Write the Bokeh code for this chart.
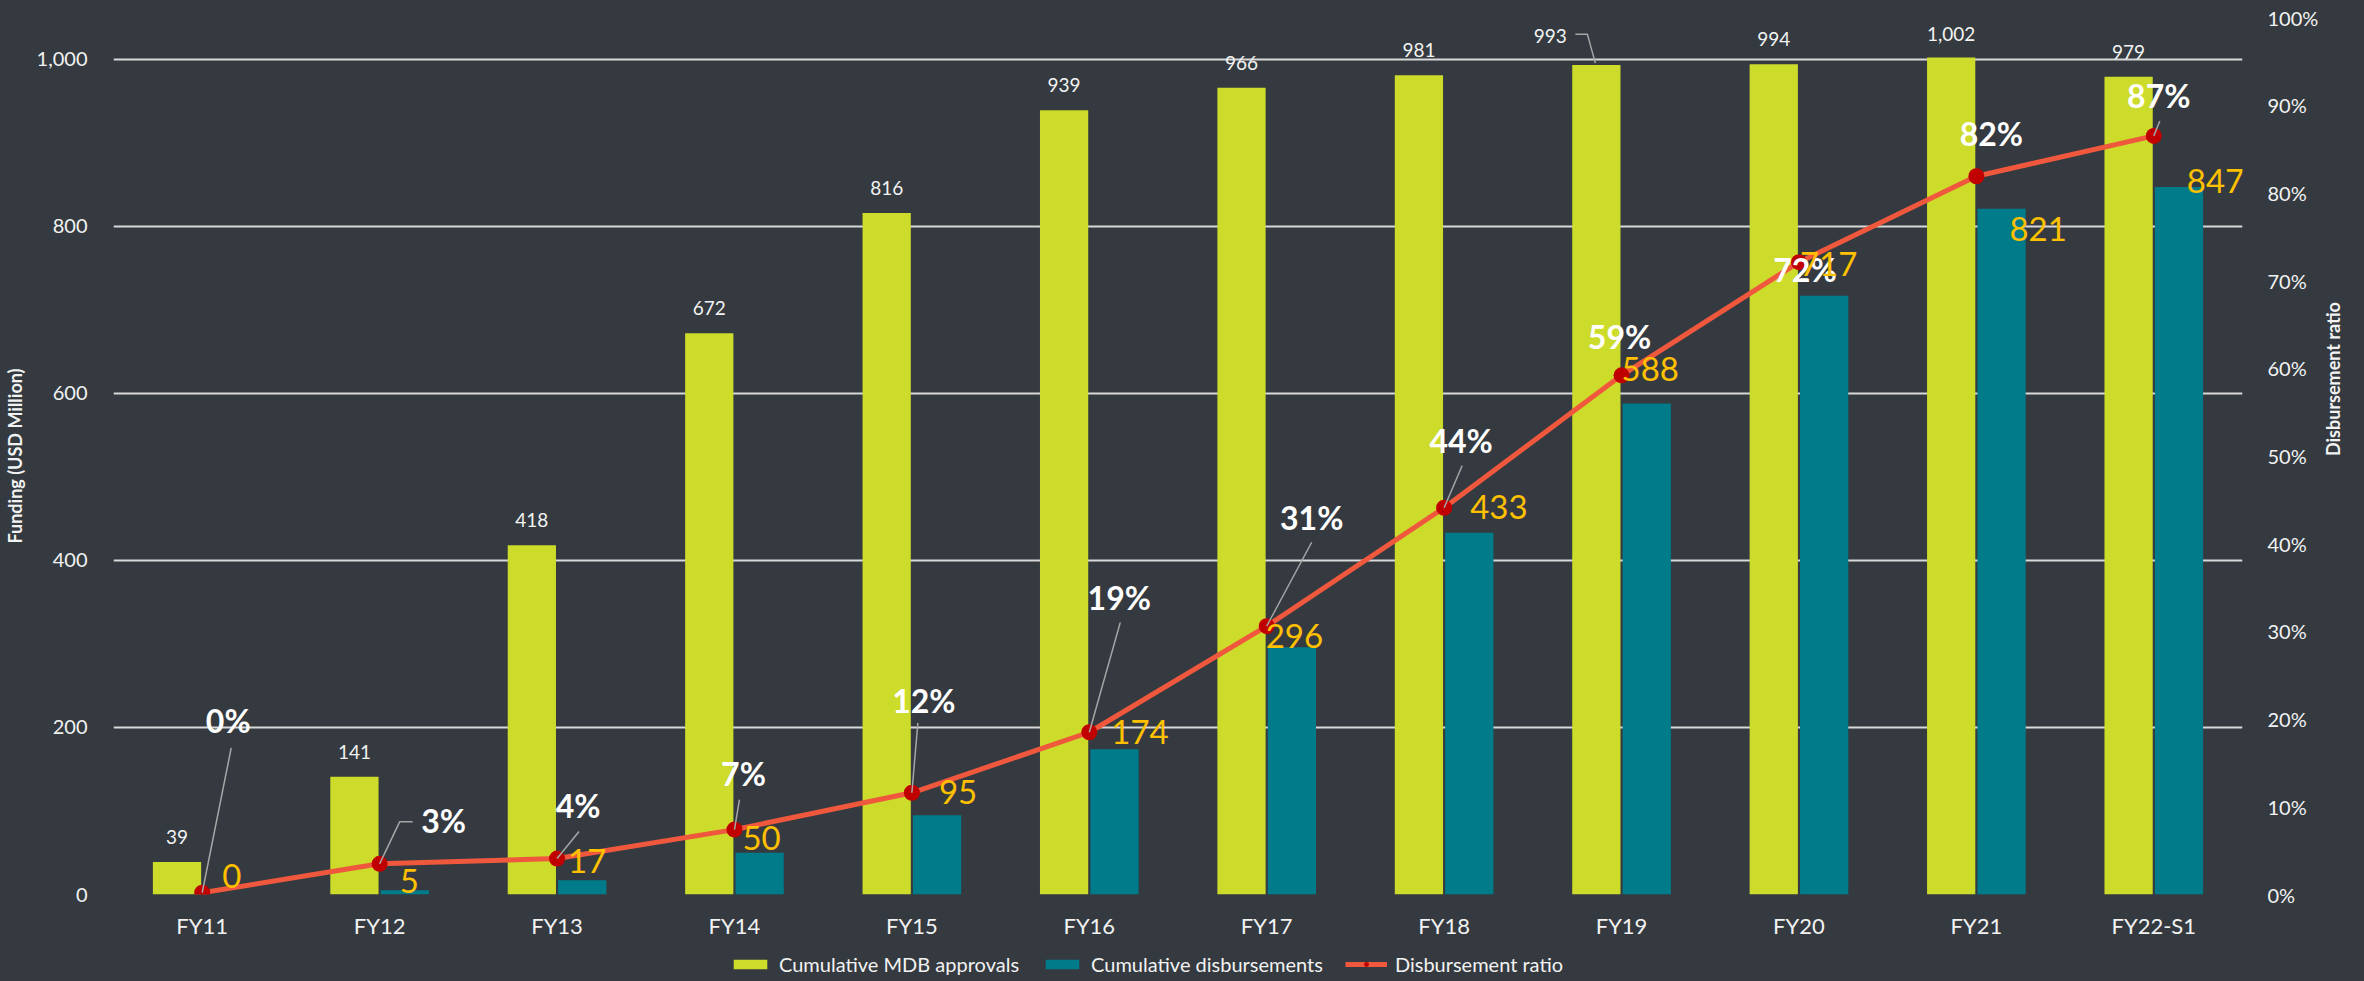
import math
from bokeh.plotting import figure
from bokeh.layouts import column
from bokeh.models import (Range1d, LinearAxis, FixedTicker, NumeralTickFormatter,
                          Legend, LegendItem, ColumnDataSource, LabelSet)
from bokeh.core.properties import value
from bokeh.embed import file_html
from bokeh.resources import INLINE

# ---------------- data ----------------
categories = ["FY11", "FY12", "FY13", "FY14", "FY15", "FY16",
              "FY17", "FY18", "FY19", "FY20", "FY21", "FY22-S1"]
approvals = [39, 141, 418, 672, 816, 939, 966, 981, 993, 994, 1002, 979]
disbursements = [0, 5, 17, 50, 95, 174, 296, 433, 588, 717, 821, 847]
ratio = [0.002, 0.035, 0.041, 0.074, 0.116, 0.185, 0.306, 0.441, 0.592, 0.721, 0.819, 0.865]
approval_labels = ["39", "141", "418", "672", "816", "939", "966", "981",
                   "993", "994", "1,002", "979"]
disb_labels = ["0", "5", "17", "50", "95", "174", "296", "433", "588", "717", "821", "847"]
ratio_labels = ["0%", "3%", "4%", "7%", "12%", "19%", "31%", "44%", "59%", "72%", "82%", "87%"]
left_ticks = [0, 200, 400, 600, 800, 1000]
right_ticks = [0.0, 0.1, 0.2, 0.3, 0.4, 0.5, 0.6, 0.7, 0.8, 0.9, 1.0]
series_names = ["Cumulative MDB approvals", "Cumulative disbursements", "Disbursement ratio"]

# ---------------- style / label placement ----------------
BG = "#343A40"
YELLOW = "#CDDB2A"
TEAL = "#007B8A"
LINE = "#F0583E"
MARK = "#C00000"
GOLD = "#FFC000"
TXT = "#F2F2F2"
GRID = "#D9D9D9"
LEAD = "#A6A6A6"
FONT = "Lato"

W = 2364
H_MAIN, H_LEG = 941, 40
BL, BR, BT, BB = 113, 122, 17, 46
FW, FH = W - BL - BR, H_MAIN - BT - BB
LEFT_MAX = 1050
N = len(categories)
XS = FW / N          # px per x unit
YSL = FH / LEFT_MAX  # px per funding unit
YSR = FH / 1.0       # px per ratio unit
BAR_W = 0.272
BAR_OFF = 0.142

appr_dx = [0, 0, 0, 0, 0, 0, 0, 0, -46, 0, 0, 0]
appr_dy = [-25, -25, -25, -25, -25, -25, -25, -25, -29, -25, -24, -25]
disb_dx = [20, 20, 11, 8, 27, 22, -1, 26, 0, 1, 33, 33]
disb_dy = [-19, -9, -19, -15, -23, -17, -11, -26, -34, -32, 20, -6]
ratio_dx = [26, 64, 21, 9, 12, 30, 45, 17, -2, 6, 15, 5]
ratio_dy = [-172, -43, -53, -56, -92, -135, -109, -67, -39, 7, -43, -40]
leaders = {0: [(0, 0), (29, -145)],
           1: [(0, 0), (20, -42), (33, -42)],
           2: [(0, 0), (22, -27)],
           3: [(0, 0), (5, -30)],
           4: [(0, 0), (6, -70)],
           5: [(0, 0), (31, -110)],
           6: [(0, 0), (45, -84)],
           7: [(0, 0), (18, -42)],
           11: [(0, 0), (6, -15)]}
appr_leaders = {8: [(-21, -31), (-9, -31), (-1, -2)]}

xc = [i + 0.5 for i in range(N)]
x_appr = [x - BAR_OFF for x in xc]
x_disb = [x + BAR_OFF for x in xc]

p = figure(width=W, height=H_MAIN, output_backend="svg", toolbar_location=None,
           x_range=Range1d(0, N), y_range=Range1d(0, LEFT_MAX),
           min_border_left=BL, min_border_right=BR, min_border_top=BT, min_border_bottom=BB,
           background_fill_color=BG, border_fill_color=BG, outline_line_color=None)
p.extra_y_ranges = {"ratio": Range1d(0, 1.0)}

# grid
p.xgrid.grid_line_color = None
p.ygrid.ticker = FixedTicker(ticks=left_ticks)
p.ygrid.grid_line_color = GRID
p.ygrid.grid_line_width = 2

# axes
for ax in [p.xaxis[0], p.yaxis[0]]:
    ax.axis_line_color = None
    ax.major_tick_line_color = None
    ax.minor_tick_line_color = None
    ax.major_label_text_color = TXT
    ax.major_label_text_font = FONT
p.xaxis.ticker = FixedTicker(ticks=xc)
p.xaxis.major_label_overrides = {x: c for x, c in zip(xc, categories)}
p.xaxis.major_label_text_font_size = "22px"
p.xaxis.major_label_standoff = 11
p.yaxis.ticker = FixedTicker(ticks=left_ticks)
p.yaxis.formatter = NumeralTickFormatter(format="0,0")
p.yaxis.major_label_text_font_size = "20px"
p.yaxis.major_label_standoff = 20
p.yaxis.axis_label = "Funding (USD Million)"
p.yaxis.axis_label_text_font = FONT
p.yaxis.axis_label_text_font_style = "bold"
p.yaxis.axis_label_text_font_size = "18px"
p.yaxis.axis_label_text_color = TXT
p.yaxis.axis_label_standoff = 8

rax = LinearAxis(y_range_name="ratio", ticker=FixedTicker(ticks=right_ticks),
                 formatter=NumeralTickFormatter(format="0%"))
rax.axis_line_color = None
rax.major_tick_line_color = None
rax.minor_tick_line_color = None
rax.major_label_text_color = TXT
rax.major_label_text_font = FONT
rax.major_label_text_font_size = "20px"
rax.major_label_standoff = 19
rax.axis_label = "Disbursement ratio"
rax.axis_label_text_font = FONT
rax.axis_label_text_font_style = "bold"
rax.axis_label_text_font_size = "18px"
rax.axis_label_text_color = TXT
rax.axis_label_standoff = 12
rax.axis_label_orientation = math.pi / 2
p.add_layout(rax, "right")

# bars
src = ColumnDataSource(dict(xa=x_appr, xd=x_disb, xc=xc, appr=approvals, disb=disbursements,
                            ratio=ratio))
p.vbar(x="xa", top="appr", bottom=0, width=BAR_W, source=src,
       fill_color=YELLOW, line_color=None)
p.vbar(x="xd", top="disb", bottom=0, width=BAR_W, source=src,
       fill_color=TEAL, line_color=None)

# ratio line
p.line(x="xc", y="ratio", source=src, y_range_name="ratio", line_color=LINE, line_width=5)
p.scatter(x="xc", y="ratio", source=src, y_range_name="ratio",
          size=16, fill_color=MARK, line_color=None)

# leader lines
lxs, lys = [], []
for i, pts in leaders.items():
    lxs.append([xc[i] + dx / XS for dx, dy in pts])
    lys.append([ratio[i] - dy / YSR for dx, dy in pts])
p.multi_line(xs=lxs, ys=lys, y_range_name="ratio", line_color=LEAD, line_width=1.5)
axs, ays = [], []
for i, pts in appr_leaders.items():
    axs.append([x_appr[i] + dx / XS for dx, dy in pts])
    ays.append([approvals[i] - dy / YSL for dx, dy in pts])
p.multi_line(xs=axs, ys=ays, line_color=LEAD, line_width=1.5)

# labels
p.text(x=x_appr, y=approvals, text=approval_labels, x_offset=appr_dx, y_offset=appr_dy,
       text_font=value(FONT), text_font_size="19px", text_color=TXT,
       text_align="center", text_baseline="middle")

dsrc = ColumnDataSource(dict(x=xc, y=disbursements, t=disb_labels,
                             dx=disb_dx, dy=[-d for d in disb_dy]))
p.add_layout(LabelSet(x="x", y="y", text="t", x_offset="dx", y_offset="dy", source=dsrc,
                      text_font=value(FONT), text_font_size="33px", text_color=GOLD,
                      text_align="left", text_baseline="middle"))

p.text(x=xc, y=ratio, text=ratio_labels, x_offset=ratio_dx, y_offset=ratio_dy,
       y_range_name="ratio",
       text_font=value(FONT), text_font_size="32px", text_font_style="bold",
       text_color="#FFFFFF", text_align="center", text_baseline="middle")

# ---------------- legend strip ----------------
lg = figure(width=W, height=H_LEG, output_backend="svg", toolbar_location=None,
            x_range=Range1d(0, 1), y_range=Range1d(0, 1),
            min_border_left=0, min_border_right=0, min_border_top=0, min_border_bottom=0,
            background_fill_color=BG, border_fill_color=BG, outline_line_color=None)
lg.axis.visible = False
lg.grid.visible = False
far = dict(x=[-5], y=[-5])
g1 = lg.vbar(x=far["x"], top=far["y"], width=0.1, fill_color=YELLOW, line_color=None)
g2 = lg.vbar(x=far["x"], top=far["y"], width=0.1, fill_color=TEAL, line_color=None)
g3 = lg.line(x=far["x"], y=far["y"], line_color=LINE, line_width=5)
g4 = lg.scatter(x=far["x"], y=far["y"], size=14, fill_color=MARK, line_color=None)
legend = Legend(items=[LegendItem(label=series_names[0], renderers=[g1]),
                       LegendItem(label=series_names[1], renderers=[g2]),
                       LegendItem(label=series_names[2], renderers=[g3, g4])],
                orientation="horizontal", location=(616, 5),
                background_fill_alpha=0, border_line_color=None,
                label_text_font=FONT, label_text_font_size="20px", label_text_color=TXT,
                glyph_width=42, glyph_height=12, label_standoff=8, spacing=22,
                padding=0, margin=0, label_height=20)
lg.add_layout(legend)

layout = column(p, lg, spacing=0)
html = file_html(layout, INLINE)
html = html.replace("<head>", "<head><style>body{background:%s;}</style>" % BG, 1)
open("out.html", "w").write(html)
